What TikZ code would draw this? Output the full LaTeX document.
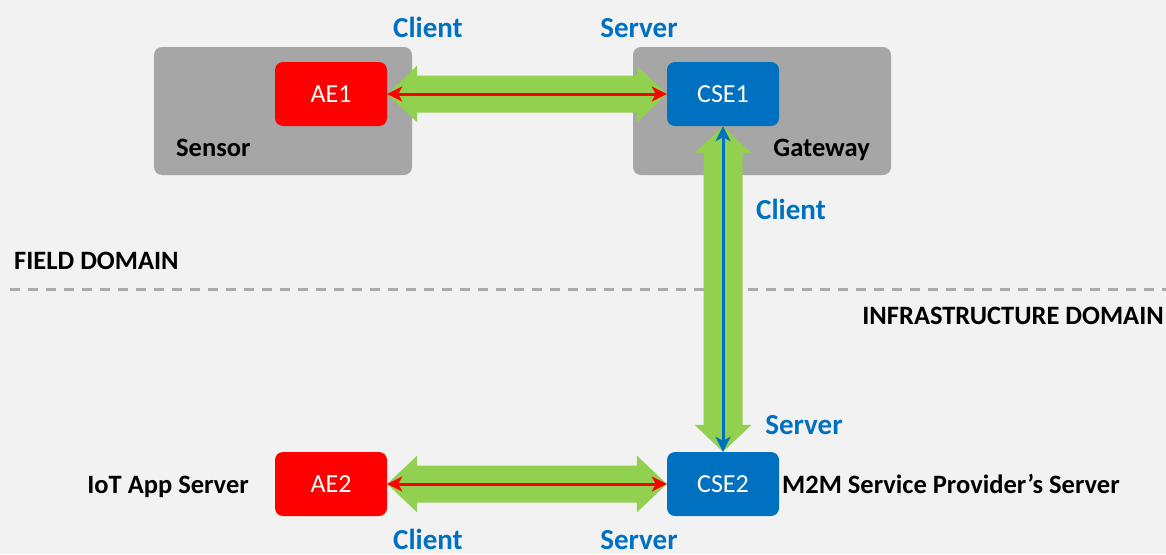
\documentclass[tikz,border=0pt]{standalone}
\usepackage{fontspec}
\setmainfont{Carlito}
\usetikzlibrary{arrows.meta,calc}
\definecolor{bg}{HTML}{F2F2F2}
\definecolor{devgray}{HTML}{A6A6A6}
\definecolor{aered}{HTML}{FF0000}
\definecolor{cseblue}{HTML}{0070C0}
\definecolor{lgreen}{HTML}{92D050}
\definecolor{dashgray}{HTML}{ABABAB}
\begin{document}
\begin{tikzpicture}[x=1pt,y=-1pt,
  device/.style={fill=devgray, rounded corners=8pt, draw=none, minimum width=258pt, minimum height=128pt, inner sep=0pt},
  entity/.style={rounded corners=8pt, minimum width=112pt, minimum height=64pt, text=white, font=\fontsize{26}{30}\selectfont, inner sep=0pt},
  ae/.style={entity, fill=aered},
  cse/.style={entity, fill=cseblue},
  role/.style={text=cseblue, font=\fontsize{29}{33}\selectfont\bfseries, inner sep=0pt},
  lbl/.style={text=black, font=\fontsize{26.5}{30}\selectfont\bfseries, inner sep=0pt},
  pipe/.style={fill=lgreen},
  msgred/.style={draw=aered, line width=3pt, {Stealth[length=15pt,width=15pt,inset=4pt]}-{Stealth[length=15pt,width=15pt,inset=4pt]}},
  msgblue/.style={draw=cseblue, line width=3pt, {Stealth[length=15pt,width=15pt,inset=4pt]}-{Stealth[length=15pt,width=15pt,inset=4pt]}},
  divider/.style={draw=dashgray, line width=3pt, dash pattern=on 10pt off 8pt}
]
\fill[bg] (0,0) rectangle (1166,554);
\useasboundingbox (0,0) rectangle (1166,554);

% domain divider
\coordinate (divL) at (10,289);
\coordinate (divR) at (1166,289);
\draw[divider] (divL) -- (divR);

% devices
\node[device] (sensor) at (283,111) {};
\node[device] (gateway) at (762,111) {};

% entities
\node[ae] (ae1) at (331,94) {AE1};
\node[cse] (cse1) at (723,94) {CSE1};
\node[ae] (ae2) at (331,484) {AE2};
\node[cse] (cse2) at (723,484) {CSE2};

% green pipes
\fill[pipe] (ae1.east) -- ($(ae1.east)+(30,-28.5)$) -- ($(ae1.east)+(30,-18.5)$)
  -- ($(cse1.west)+(-30,-18.5)$) -- ($(cse1.west)+(-30,-28.5)$) -- (cse1.west)
  -- ($(cse1.west)+(-30,28.5)$) -- ($(cse1.west)+(-30,18.5)$)
  -- ($(ae1.east)+(30,18.5)$) -- ($(ae1.east)+(30,28.5)$) -- cycle;
\fill[pipe] (ae2.east) -- ($(ae2.east)+(30,-28.5)$) -- ($(ae2.east)+(30,-18.5)$)
  -- ($(cse2.west)+(-30,-18.5)$) -- ($(cse2.west)+(-30,-28.5)$) -- (cse2.west)
  -- ($(cse2.west)+(-30,28.5)$) -- ($(cse2.west)+(-30,18.5)$)
  -- ($(ae2.east)+(30,18.5)$) -- ($(ae2.east)+(30,28.5)$) -- cycle;
\fill[pipe] (cse1.south) -- ($(cse1.south)+(28.5,27)$) -- ($(cse1.south)+(19.5,27)$)
  -- ($(cse2.north)+(19.5,-27)$) -- ($(cse2.north)+(28.5,-27)$) -- (cse2.north)
  -- ($(cse2.north)+(-28.5,-27)$) -- ($(cse2.north)+(-19.5,-27)$)
  -- ($(cse1.south)+(-19.5,27)$) -- ($(cse1.south)+(-28.5,27)$) -- cycle;

% message arrows
\draw[msgred] (ae1.east) -- (cse1.west);
\draw[msgred] (ae2.east) -- (cse2.west);
\draw[msgblue] (cse1.south) -- (cse2.north);

% role labels
\node[role, anchor=base] (r1) at (428,37) {Client};
\node[role, anchor=base] (r2) at (639,37) {Server};
\node[role, anchor=base] (r3) at (791,219) {Client};
\node[role, anchor=base] (r4) at (804,434) {Server};
\node[role, anchor=base] (r5) at (428,549) {Client};
\node[role, anchor=base] (r6) at (639,549) {Server};

% black labels
\node[lbl, anchor=base west] (lsensor) at (176,156) {Sensor};
\node[lbl, anchor=base east] (lgateway) at (870,156) {Gateway};
\node[lbl, anchor=base west] (lfield) at (14,269) {FIELD DOMAIN};
\node[lbl, anchor=base east] (linfra) at (1164,324) {INFRASTRUCTURE DOMAIN};
\node[lbl, anchor=base east] (liot) at (249,493) {IoT App Server};
\node[lbl, anchor=base west] (lm2m) at (782,493) {M2M Service Provider’s Server};
\end{tikzpicture}
\end{document}
